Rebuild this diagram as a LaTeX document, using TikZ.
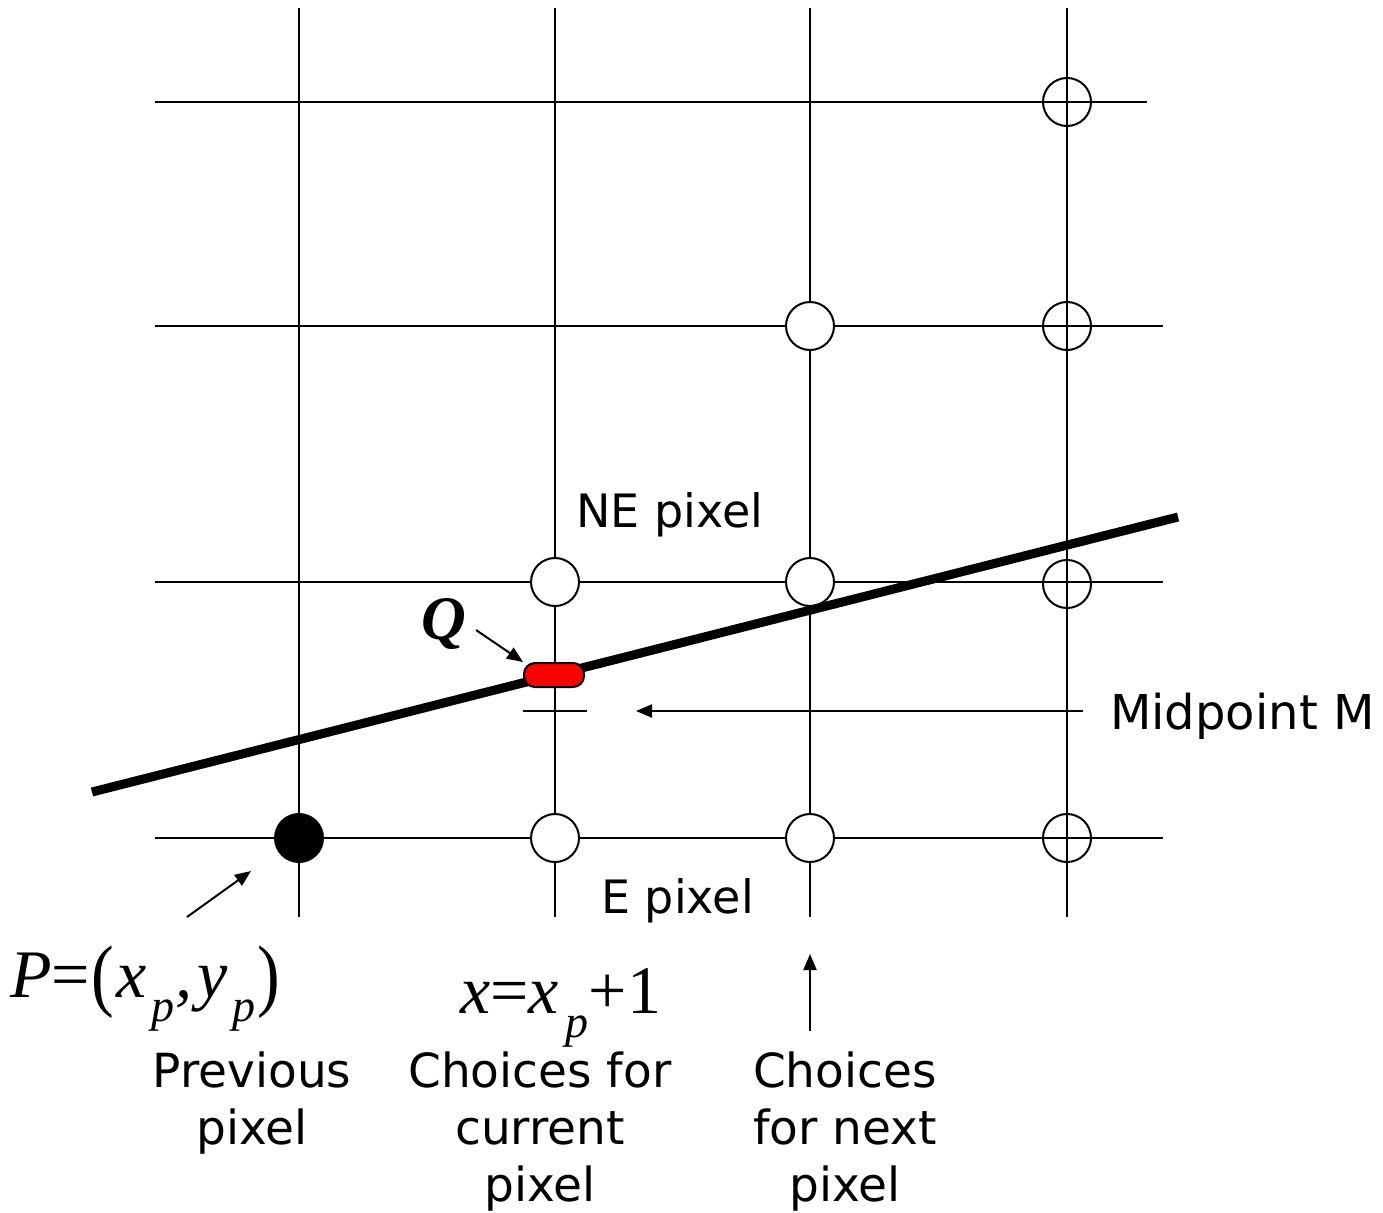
\documentclass[tikz,border=0pt]{standalone}
\usepackage{fontspec}
\setmainfont{DejaVu Sans}
\newfontfamily\serif{Liberation Serif}
\usetikzlibrary{arrows.meta}
\newcommand{\subp}{\raisebox{-24pt}{\fontsize{46}{46}\selectfont\itshape p}}
\newcommand{\tallp}[1]{\raisebox{-4pt}{\scalebox{1}[1.18]{#1}}}
\begin{document}
\begin{tikzpicture}[x=1pt,y=-1pt,
  grid/.style={line width=2pt},
  pix/.style={circle,draw,line width=2pt,fill=white,minimum size=48pt,inner sep=0pt},
  hollow/.style={circle,draw,line width=2pt,minimum size=48pt,inner sep=0pt},
  ptr/.style={line width=2pt,-{Triangle[length=16pt,width=13pt]}},
  lbl/.style={font=\fontsize{47}{57}\selectfont,inner sep=0pt},
  mth/.style={font=\serif\fontsize{68}{68}\selectfont,inner sep=0pt,anchor=base west}]
\useasboundingbox[fill=white] (0,0) rectangle (1383,1212);
% grid
\foreach \x in {299,555,810,1067} \draw[grid] (\x,8) -- (\x,917);
\draw[grid] (155,102) -- (1147,102);
\foreach \y in {326,582,838} \draw[grid] (155,\y) -- (1163,\y);
% pixels
\node[circle,fill=black,minimum size=50pt,inner sep=0pt] (prev) at (299,838) {};
\node[pix] (ne) at (555,582) {};
\node[pix] (e) at (555,838) {};
\node[pix] (c1) at (810,326) {};
\node[pix] (c2) at (810,582) {};
\node[pix] (c3) at (810,838) {};
\node[hollow] (d0) at (1067,102) {};
\node[hollow] (d1) at (1067,326) {};
\node[hollow] (d2) at (1067,584) {};
\node[hollow] (d3) at (1067,838) {};
% line
\coordinate (l0) at (92,792);
\coordinate (l1) at (1178,517);
\draw[line width=9pt] (l0) -- (l1);
% Q
\node[draw,line width=2pt,fill=red,rounded corners=11pt,minimum width=60pt,minimum height=24pt,inner sep=0pt] (q) at (554,675) {};
\node[font=\serif\bfseries\itshape\fontsize{62}{62}\selectfont,inner sep=0pt,anchor=base] (qlbl) at (444,639) {Q};
\coordinate (qa) at (476,630);
\draw[ptr] (qa) -- (q.north west);
% midpoint
\coordinate (m0) at (523,711);
\coordinate (m1) at (587,711);
\draw[grid] (m0) -- (m1);
\node[lbl,anchor=base west,font=\fontsize{48}{57}\selectfont] (mid) at (1110,729) {Midpoint M};
\coordinate (mt) at (636,711);
\draw[ptr] (1083,711) coordinate (ms) -- (mt);
% NE / E labels
\node[lbl,anchor=base west,font=\fontsize{46}{57}\selectfont] (nel) at (576,527) {NE pixel};
\node[lbl,anchor=base west,font=\fontsize{46}{57}\selectfont] (el) at (601,913) {E pixel};
% P arrow
\coordinate (pa0) at (187,917);
\coordinate (pa1) at (251,871);
\draw[ptr] (pa0) -- (pa1);
\node[mth] (pl) at (10,997) {\itshape P\upshape=\kern1pt\tallp{(}\kern3pt\itshape x\kern5pt\subp\kern1pt,\kern5pt y\kern4pt\subp\kern2pt\upshape\tallp{)}};
\node[mth] (xl) at (460,1013) {\itshape x\upshape=\itshape x\kern7pt\subp\upshape+1};
% next arrow
\coordinate (na0) at (810,1031);
\coordinate (na1) at (810,954);
\draw[ptr] (na0) -- (na1);
% bottom labels
\node[lbl,align=center,anchor=north] (prevl) at (252,1052) {Previous\\pixel};
\node[lbl,align=center,anchor=north] (curl) at (540,1052) {Choices for\\current\\pixel};
\node[lbl,align=center,anchor=north] (nextl) at (845,1052) {Choices\\for next\\pixel};
\end{tikzpicture}
\end{document}
